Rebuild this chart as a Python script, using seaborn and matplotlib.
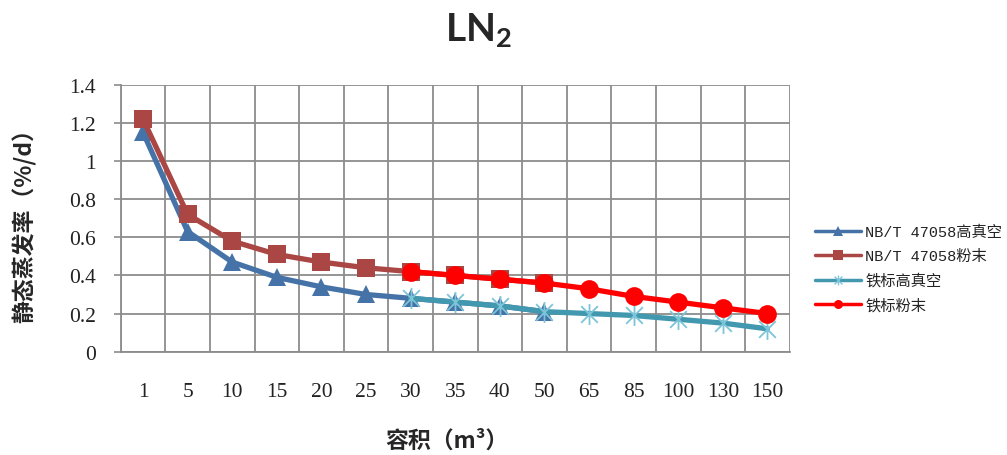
import numpy as np
import pandas as pd
import seaborn as sns
import matplotlib
matplotlib.use("Agg")
import matplotlib.pyplot as plt
from matplotlib.lines import Line2D
from matplotlib.path import Path
from matplotlib.ticker import FixedLocator

# ---- data ----
categories = ["1", "5", "10", "15", "20", "25", "30", "35", "40", "50",
              "65", "85", "100", "130", "150"]
nbt_vacuum_cats = ["1", "5", "10", "15", "20", "25", "30", "35", "40", "50"]
nbt_vacuum = [1.15, 0.63, 0.47, 0.39, 0.34, 0.30, 0.28, 0.26, 0.24, 0.21]
nbt_powder_cats = ["1", "5", "10", "15", "20", "25", "30", "35", "40", "50"]
nbt_powder = [1.22, 0.72, 0.58, 0.51, 0.47, 0.44, 0.42, 0.40, 0.38, 0.36]
rail_vacuum_cats = ["30", "35", "40", "50", "65", "85", "100", "130", "150"]
rail_vacuum = [0.28, 0.26, 0.24, 0.21, 0.20, 0.19, 0.17, 0.15, 0.12]
rail_powder_cats = ["30", "35", "40", "50", "65", "85", "100", "130", "150"]
rail_powder = [0.42, 0.40, 0.38, 0.36, 0.33, 0.29, 0.26, 0.23, 0.20]
series_names = ["NB/T 47058高真空", "NB/T 47058粉末", "铁标高真空", "铁标粉末"]
y_ticks = [0, 0.2, 0.4, 0.6, 0.8, 1, 1.2, 1.4]
y_ticklabels = ["0", "0.2", "0.4", "0.6", "0.8", "1", "1.2", "1.4"]

colors = ["#4572A7", "#AA4643", "#4198AF", "#FF0000"]
markers = ["^", "s", "star", "o"]
star_color = "#7CC4D8"

# Excel-style asterisk marker: X plus vertical stroke
star_path = Path(
    [(0, -1), (0, 1), (-0.8, -0.8), (0.8, 0.8), (-0.8, 0.8), (0.8, -0.8)],
    [Path.MOVETO, Path.LINETO, Path.MOVETO, Path.LINETO, Path.MOVETO, Path.LINETO],
)

sns.set_theme(style="white")
plt.rcParams["font.family"] = ["Noto Sans CJK SC", "DejaVu Sans"]
plt.rcParams["mathtext.fontset"] = "custom"
plt.rcParams["mathtext.rm"] = "Lato"
plt.rcParams["mathtext.bf"] = "Lato:bold"

fig = plt.figure(figsize=(10.07, 4.56), dpi=100)
ax = fig.add_axes([120.7 / 1007, 1 - 352.7 / 456, 669 / 1007, 267 / 456])

pos = {c: i for i, c in enumerate(categories)}
all_series = [(nbt_vacuum_cats, nbt_vacuum), (nbt_powder_cats, nbt_powder),
              (rail_vacuum_cats, rail_vacuum), (rail_powder_cats, rail_powder)]

for k, (cats, vals) in enumerate(all_series):
    df = pd.DataFrame({"x": [pos[c] for c in cats], "y": vals})
    mk = markers[k]
    if mk == "star":
        kw = dict(marker=star_path, markersize=15, markeredgewidth=1.3,
                  markeredgecolor=star_color, markerfacecolor="none")
    elif mk == "o":
        kw = dict(marker="o", markersize=13.5, markeredgewidth=0)
    else:
        kw = dict(marker=mk, markersize=12.5, markeredgewidth=0)
    sns.lineplot(data=df, x="x", y="y", ax=ax, color=colors[k], linewidth=3.8,
                 legend=False, zorder=3 + k, **kw)

ax.set_xlim(-0.5, len(categories) - 0.5)
ax.set_ylim(0, 1.4)
ax.xaxis.set_major_locator(FixedLocator(np.arange(len(categories))))
ax.set_xticklabels(categories)
ax.xaxis.set_minor_locator(FixedLocator(np.arange(len(categories) + 1) - 0.5))
ax.set_yticks(y_ticks)
ax.set_yticklabels(y_ticklabels)

ax.grid(False)
ax.grid(True, which="minor", axis="x", color="#8C8C8C", linewidth=1.3)
ax.grid(True, which="major", axis="y", color="#8C8C8C", linewidth=1.3)
ax.set_axisbelow(True)
for s in ["top", "right"]:
    ax.spines[s].set_visible(False)
for s in ["left", "bottom"]:
    ax.spines[s].set_color("#8C8C8C")
    ax.spines[s].set_linewidth(1.3)

ax.tick_params(axis="x", which="both", length=0, pad=22)
ax.tick_params(axis="y", which="major", length=5, width=1.2, color="#8C8C8C",
               direction="out", left=True, pad=13)
for lab in ax.get_xticklabels() + ax.get_yticklabels():
    lab.set_fontfamily(["Liberation Serif", "DejaVu Serif"])
    lab.set_fontsize(15.5)
    lab.set_color("#222222")
ax.set_xlabel("")
ax.set_ylabel("")

fig.text(478 / 1007, 1 - 30 / 456, r"$\mathbf{LN_2}$", fontsize=28,
         ha="center", va="center")
fig.text(25 / 1007, 1 - 220 / 456, "静态蒸发率（%/d）", rotation=90,
         fontsize=16.5, fontweight="bold", ha="center", va="center")
fig.text(447 / 1007, 1 - 441 / 456, "容积（m³）", fontsize=16.5,
         fontweight="bold", ha="center", va="center")

handles = []
for k in range(4):
    mk = markers[k]
    if mk == "star":
        h = Line2D([], [], color=colors[k], linewidth=2.5, marker=star_path,
                   markersize=7, markeredgewidth=1.0, markeredgecolor=star_color,
                   markerfacecolor="none")
    else:
        h = Line2D([], [], color=colors[k], linewidth=2.5, marker=mk,
                   markersize=6.5, markeredgewidth=0)
    handles.append(h)
leg = fig.legend(handles, series_names, loc="upper left",
                 bbox_to_anchor=(815 / 1007, 1 - 226 / 456), frameon=False,
                 borderpad=0, borderaxespad=0, handlelength=3.0,
                 handletextpad=0.3, labelspacing=0.65,
                 prop={"family": ["Liberation Mono", "Noto Sans CJK SC"], "size": 11})
for t in leg.get_texts():
    t.set_color("#222222")

fig.savefig("out.png", dpi=100)
